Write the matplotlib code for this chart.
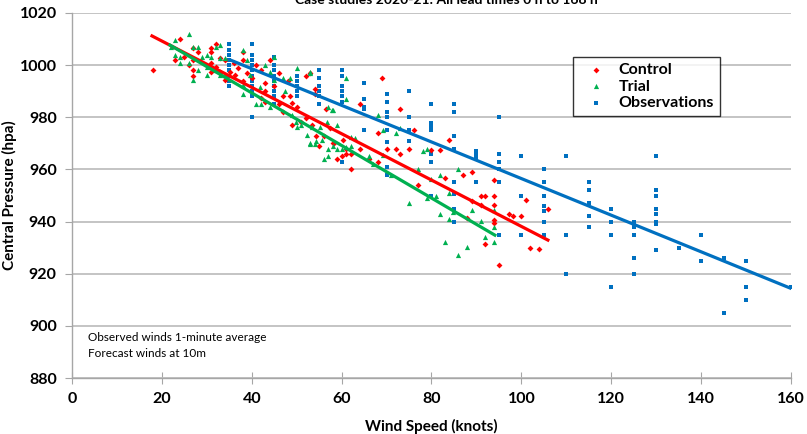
import matplotlib.pyplot as plt

# --- DATA ---
ctrl_x = [18, 24, 23, 25, 26, 27, 27, 28, 27, 27, 31, 31, 31, 31, 32, 32, 33, 33, 34, 34, 36.3, 35.2,
          38, 38, 38, 42, 42, 43, 44, 43, 46, 47, 48, 48.5, 49, 52, 53, 54, 54, 56.5, 52, 53.3, 54.4, 56,
          57.4, 58.2, 60.4, 51, 49, 36, 37, 39, 40, 41, 43, 45, 46, 47, 50,
          55, 58, 59, 60, 61, 61, 62,
          69, 64, 73, 68, 64, 62, 66, 68, 72, 75, 76, 80, 82, 84, 87, 83, 77, 70, 73,
          89, 94, 89, 91, 92, 94, 91, 94, 94, 94, 92, 95, 97.3, 98.2, 100, 101, 102, 104, 106, 88]
ctrl_y = [998, 1010, 1002, 1003, 1000, 1006.7, 1002, 1005, 998, 996, 1006.7, 1005, 1001, 997.5, 1008, 999.4,
          1002.6, 997.5, 1002, 994.3, 996.2, 997.5,
          1002, 1005, 994, 998, 987.3, 990, 1002, 986, 997, 988, 994, 988, 985.4, 996, 997, 991, 989, 983,
          979.6, 977, 973, 973, 976, 970, 971.3, 978.3, 977, 1001, 999, 997, 995, 1000, 993, 992, 985, 982, 984,
          969, 970.3, 964, 965.3, 966, 968, 960,
          995, 985, 983, 974, 968, 966, 964, 963, 968, 968, 975, 967.4, 967.4, 971.3, 958, 956.6, 954, 967.8, 966,
          959, 956, 948, 950, 950, 950, 946.4, 946.4, 940.6, 939.3, 931.4, 923.3, 943, 942, 942, 948.3, 930,
          929.4, 945, 941.3]

trial_x = [26, 23, 22, 23, 24, 24, 27, 28, 26, 28, 27, 29, 30, 30, 30, 32, 33, 33, 32, 34, 34, 33, 31,
           38, 38, 39, 41, 42, 43, 44, 44, 45, 45, 47, 48.5, 50, 53, 47.4, 49, 49.8, 51, 53.3, 50, 52.2,
           55.2, 57.8, 58.9, 56.7, 61, 54.4, 53, 55.6, 38, 39.6, 41.8,
           53, 54, 57, 58, 59, 60, 61, 56, 57,
           68, 69.3, 72, 73, 62, 62, 63, 66, 67, 78, 79, 86, 82, 80, 77, 71, 69.3,
           75, 79, 81, 84, 84.8, 82, 84, 83, 86, 88,
           89, 91, 94, 92, 94, 61, 57, 58, 53, 93.8]
trial_y = [1012, 1009.6, 1007, 1004, 1003, 1001, 1006.8, 1006.8, 1001, 998, 994.3, 1003, 1004, 999.4, 996.2,
           1006.8, 1007.7, 1002.6, 998, 1002.6, 996.2, 996.2, 1003.2,
           1005.8, 988.8, 1002, 985, 985, 1000, 997.5, 984, 1003.2, 994.3, 995, 995, 998.8, 997.5, 990, 981,
           978.3, 977, 976.4, 976.4, 973.2, 976.4, 982.8, 977, 978.3, 995, 970.8, 970, 971.3, 992.4, 996.2, 991.7,
           969.7, 969.7, 968, 969, 967.8, 967.8, 968.7, 964, 965.3,
           981, 975, 974, 975.8, 969, 972.3, 972, 965, 962, 967.2, 968, 960.2, 958, 956.2, 960, 957.9, 965.5,
           947.2, 948.9, 950, 951, 943.8, 942.9, 940.9, 932.3, 927.2, 930.1,
           944.4, 940.3, 944.4, 934.2, 932.3, 987, 984, 982.8, 997, 938]

obs_x = [35] * 9 + [40] * 11 + [45] * 9 + [50] * 5 + [55] * 6 + [60] * 7 + [65] * 5 + [70] * 8 + \
        [75] * 4 + [80] * 7 + [85] * 8 + [90] * 4 + [95] * 6 + [100] * 3 + [105] * 7 + [110] * 3 + \
        [115] * 5 + [120] * 4 + [125] * 5 + [130] * 8 + [135] + [140] * 2 + [145] * 2 + [150] * 3 + [160]
obs_y = [1008, 1006, 1004, 1002, 1000, 998, 996, 994, 992,
         1008, 1004, 1002, 1000, 998, 996, 994, 992, 990, 988, 980,
         1003, 1000, 998, 996, 994, 992, 990, 988, 985,
         996, 994, 992, 990, 988,
         998, 995, 992, 990, 988, 985,
         998, 996, 992, 990, 988, 986, 963,
         993, 987, 984, 983, 975,
         989, 986, 982, 980, 975, 970.5, 961, 958,
         990, 980, 975, 971,
         985, 978, 976.6, 975, 966, 963, 950,
         985, 982, 973, 968, 955, 950.6, 945, 940,
         967, 965.5, 964, 955,
         980, 966, 963, 960, 955, 935,
         965, 950, 935,
         960, 955, 950, 946, 944, 940, 935,
         965, 935, 920,
         955, 952, 947, 942, 938,
         945, 940, 935, 915,
         940, 938, 935, 926, 920,
         965, 952, 950, 945, 943, 940, 939, 929,
         930,
         935, 925,
         926, 905,
         925, 915, 910,
         915]

# linear trend lines (end points)
ctrl_trend_x = [17.8, 105.9]
ctrl_trend_y = [1011.2, 932.9]
trial_trend_x = [21.8, 94.1]
trial_trend_y = [1007.7, 934.8]
obs_trend_x = [35.2, 159.8]
obs_trend_y = [1002.0, 914.5]

RED = '#FF0000'
GREEN = '#00B050'
BLUE = '#0070C0'

plt.rcParams['font.family'] = ['Lato', 'DejaVu Sans']

fig = plt.figure(figsize=(8.07, 4.34), dpi=100)
ax = fig.add_axes([72 / 807, 1 - 378 / 434, (791 - 72) / 807, (378 - 13) / 434])

ax.scatter(obs_x, obs_y, marker='s', s=12, color=BLUE, label='Observations', zorder=3, linewidths=0)
ax.scatter(ctrl_x, ctrl_y, marker='D', s=9, color=RED, label='Control', zorder=3, linewidths=0)
ax.scatter(trial_x, trial_y, marker='^', s=14, color=GREEN, label='Trial', zorder=3, linewidths=0)

ax.plot(ctrl_trend_x, ctrl_trend_y, color=RED, lw=2.3, zorder=4)
ax.plot(trial_trend_x, trial_trend_y, color=GREEN, lw=2.3, zorder=4)
ax.plot(obs_trend_x, obs_trend_y, color=BLUE, lw=2.3, zorder=4)

ax.set_xlim(0, 160)
ax.set_ylim(880, 1020)
ax.set_xticks(range(0, 161, 20))
ax.set_yticks(range(880, 1021, 20))
ax.grid(axis='y', color='#BFBFBF', lw=1.3)
ax.set_axisbelow(True)
for s in ['top', 'right']:
    ax.spines[s].set_visible(False)
for s in ['left', 'bottom']:
    ax.spines[s].set_color('#A6A6A6')
    ax.spines[s].set_linewidth(1.0)
ax.tick_params(axis='x', direction='inout', length=8, color='#A6A6A6', labelsize=11.5, pad=6)
ax.tick_params(axis='y', direction='out', length=5, color='#A6A6A6', labelsize=11.5, pad=6)
for lab in ax.get_xticklabels() + ax.get_yticklabels():
    lab.set_fontweight('bold')

ax.set_xlabel('Wind Speed (knots)', fontsize=11, fontweight='bold')
ax.set_ylabel('Central Pressure (hpa)', fontsize=11, fontweight='bold')
ax.xaxis.set_label_coords(0.5, -0.112)
ax.yaxis.set_label_coords(-0.077, 0.5)

# legend order as in the reference
h, l = ax.get_legend_handles_labels()
order = [1, 2, 0]
leg = ax.legend([h[i] for i in order], [l[i] for i in order], loc='upper left',
                bbox_to_anchor=(0.697, 0.879), borderaxespad=0, frameon=True, fancybox=False,
                edgecolor='black', prop={'weight': 'bold', 'size': 11.5},
                handletextpad=0.3, borderpad=0.35, labelspacing=0.15, markerscale=1.0,
                handlelength=2.2)
leg.get_frame().set_linewidth(1.0)

ax.text(0.022, 0.125, 'Observed winds 1-minute average\nForecast winds at 10m',
        transform=ax.transAxes, fontsize=8.5, va='top', linespacing=1.5)

fig.text(446 / 807, 1 - 4 / 434, 'Case studies 2020-21: All lead times 0 h to 168 h',
         ha='center', va='baseline', fontsize=10, fontweight='bold')

fig.savefig('out.png', dpi=100)
